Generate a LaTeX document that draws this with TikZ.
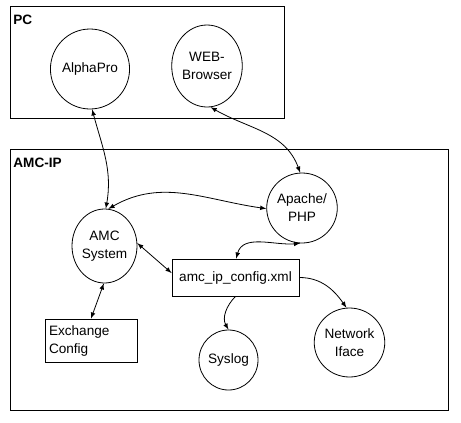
\documentclass[tikz,border=0pt]{standalone}
\usepackage{fontspec}
\setmainfont{Liberation Sans}
\usepackage{tikz}
\usetikzlibrary{positioning,shapes.geometric}

\begin{document}
\begin{tikzpicture}[
  x=0.75pt, y=-0.75pt,
  font=\fontsize{10.2}{13.5}\selectfont,
  line width=0.6pt,
  frame/.style={draw, rectangle, anchor=north west, inner sep=0pt},
  framelabel/.style={anchor=north west, inner sep=0pt, font=\fontsize{10.2}{13.5}\selectfont\bfseries},
  proc/.style={draw, ellipse, align=center, inner sep=0pt},
  fbox/.style={draw, rectangle, inner sep=3pt},
  link/.style={latex-latex},
  flow/.style={-latex}
]
\useasboundingbox (0,0) rectangle (461,422);
% containers
\node[frame, minimum width=205.5pt, minimum height=84pt] (pc) at (10,6) {};
\node[framelabel] (pclabel) at ([xshift=2.25pt, yshift=-6.75pt]pc.north west) {PC};
\node[frame, minimum width=328.5pt, minimum height=195.75pt] (amcip) at (10,149) {};
\node[framelabel] (amciplabel) at ([xshift=2.25pt, yshift=-6.75pt]amcip.north west) {AMC-IP};
% processes and files
\node[proc, minimum width=57pt, minimum height=60pt] (alpha) at (90,69) {AlphaPro};
\node[proc, minimum width=52.5pt, minimum height=61.5pt] (web) at (207,66) {WEB-\\Browser};
\node[proc, minimum width=48.75pt, minimum height=55.5pt] (amc) at (104.5,246) {AMC\\System};
\node[proc, minimum width=52.5pt, minimum height=52.5pt] (apache) at (302,208) {Apache/\\PHP};
\node[fbox, minimum width=95.25pt, minimum height=27.75pt] (cfg) at (235.5,277.5) {amc\_ip\_config.xml};
\node[fbox, minimum width=69pt, minimum height=32.25pt, text width=63pt, align=left] (exch) at (91,340.5) {Exchange\\Config};
\node[proc, minimum width=44.25pt, minimum height=45pt] (syslog) at (228.5,360) {Syslog};
\node[proc, minimum width=51.75pt, minimum height=51.75pt] (netif) at (349.5,342.5) {Network\\Iface};
% connections
\draw[link] (alpha.-87) to[out=-75, in=80] (amc.88);
\draw[link] (web.-85) to[out=-30, in=110] (apache.93);
\draw[link] (amc.84) to[out=30, in=172] (apache.181);
\draw[link] (amc.5) -- (cfg.176);
\draw[link] (apache.-93) to[out=185, in=75] (cfg.88);
\draw[link] (amc.-91) -- (exch.north);
\draw[flow] (cfg.south) to[out=-135, in=120] (syslog.north);
\draw[flow] (cfg.east) to[out=0, in=125] (netif.95);
\end{tikzpicture}
\end{document}
